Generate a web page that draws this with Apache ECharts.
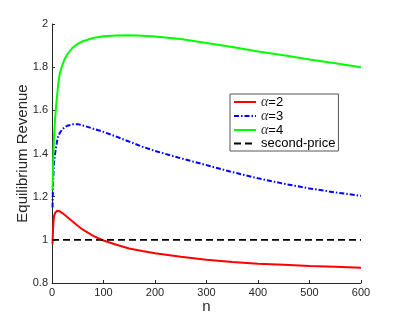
<!DOCTYPE html>
<html>
<head>
<meta charset="utf-8">
<script src="https://cdn.jsdelivr.net/npm/echarts@6/dist/echarts.min.js"></script>
<style>html,body{margin:0;padding:0;background:#fff}#c{width:399px;height:319px}</style>
</head>
<body>
<div id="c"></div>
<script>
var nVals = [1,2,3,4,6,8,10,12,15,20,25,30,40,50,60,80,100,125,150,175,200,250,300,350,400,450,500,550,600];
var alpha2 = [0.98,1.05,1.09,1.11,1.125,1.132,1.135,1.135,1.132,1.124,1.115,1.105,1.085,1.065,1.047,1.018,0.997,0.977,0.96,0.948,0.938,0.922,0.908,0.897,0.889,0.884,0.879,0.875,0.871];
var alpha3 = [1.15,1.26,1.32,1.36,1.40,1.43,1.46,1.478,1.495,1.512,1.522,1.529,1.535,1.536,1.530,1.515,1.500,1.478,1.455,1.432,1.412,1.378,1.346,1.314,1.285,1.260,1.238,1.220,1.204];
var alpha4 = [1.23,1.34,1.42,1.48,1.56,1.62,1.67,1.72,1.77,1.81,1.84,1.86,1.89,1.908,1.92,1.935,1.943,1.947,1.948,1.946,1.942,1.93,1.912,1.893,1.873,1.855,1.836,1.818,1.80];
var secondN = [0, 600];
var secondPrice = [1, 1];
var seriesNames = ['α=2','α=3','α=4','second-price'];

function pairs(xs, ys){ return xs.map(function(x,i){ return [x, ys[i]]; }); }

var axisColor = '#262626';
var chart = echarts.init(document.getElementById('c'), null, {renderer:'canvas'});
chart.setOption({
  backgroundColor: '#fff',
  animation: false,
  grid: {left: 52, right: 38, top: 24, bottom: 36, containLabel: false, outerBoundsMode: 'none'},
  xAxis: {
    type: 'value', min: 0, max: 600, interval: 100,
    name: 'n', nameLocation: 'middle', nameGap: 16, nameMoveOverlap: false,
    nameTextStyle: {fontFamily: 'Liberation Sans', fontSize: 15, color: axisColor},
    axisLine: {show: true, lineStyle: {color: axisColor, width: 1}},
    axisTick: {show: true, inside: true, length: 3, lineStyle: {color: axisColor}},
    axisLabel: {fontFamily: 'Liberation Sans', fontSize: 11, color: axisColor, margin: 4},
    splitLine: {show: false}
  },
  yAxis: {
    type: 'value', min: 0.8, max: 2, interval: 0.2,
    name: 'Equilibrium Revenue', nameLocation: 'middle', nameGap: 22, nameMoveOverlap: false,
    nameTextStyle: {fontFamily: 'Liberation Sans', fontSize: 15, color: axisColor},
    axisLine: {show: true, lineStyle: {color: axisColor, width: 1}},
    axisTick: {show: true, inside: true, length: 3, lineStyle: {color: axisColor}},
    axisLabel: {fontFamily: 'Liberation Sans', fontSize: 11, color: axisColor, margin: 4,
      formatter: function(v){ return String(Math.round(v*10)/10); }},
    splitLine: {show: false}
  },
  legend: {
    orient: 'vertical', left: 230, top: 94,
    data: seriesNames,
    itemWidth: 22, itemHeight: 13, itemGap: 0,
    padding: [1, 3, 1, 3],
    backgroundColor: '#fff',
    borderColor: '#555', borderWidth: 1, borderRadius: 0,
    itemStyle: {opacity: 0},
    formatter: function(name){
      if (name.charAt(0) === 'α') return '{a|α}' + name.slice(1);
      return name;
    },
    textStyle: {fontFamily: 'Liberation Sans', fontSize: 13, color: '#000', lineHeight: 13,
      rich: {a: {fontFamily: 'Liberation Serif', fontStyle: 'italic', fontSize: 14, color: '#333'}}}
  },
  series: [
    {name: seriesNames[0], type: 'line', data: pairs(nVals, alpha2), showSymbol: false, symbol: 'none',
      smooth: false, lineStyle: {color: '#ff0000', width: 2}, itemStyle: {color: '#ff0000'}},
    {name: seriesNames[1], type: 'line', data: pairs(nVals, alpha3), showSymbol: false, symbol: 'none',
      smooth: false, lineStyle: {color: '#0000ff', width: 2, type: [5,2,1.5,2]}, itemStyle: {color: '#0000ff'}},
    {name: seriesNames[2], type: 'line', data: pairs(nVals, alpha4), showSymbol: false, symbol: 'none',
      smooth: false, lineStyle: {color: '#00ff00', width: 2}, itemStyle: {color: '#00ff00'}},
    {name: seriesNames[3], type: 'line', data: pairs(secondN, secondPrice), showSymbol: false, symbol: 'none',
      lineStyle: {color: '#000', width: 1.8, type: [7,4]}, itemStyle: {color: '#000'}}
  ]
});
</script>
</body>
</html>
